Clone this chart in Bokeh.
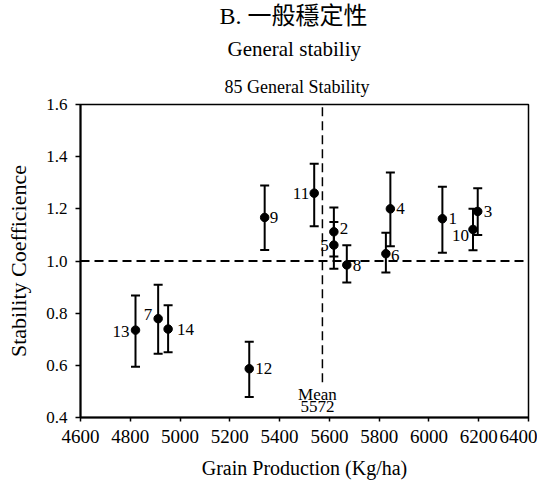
from bokeh.plotting import figure
from bokeh.models import ColumnDataSource, Whisker, Span, Title, FixedTicker, TeeHead
from bokeh.core.properties import value
from bokeh.embed import file_html
from bokeh.resources import INLINE

# ---- data ----
genotypes = ["1", "2", "3", "4", "5", "6", "7", "8", "9", "10", "11", "12", "13", "14"]
grain = [6054, 5618, 6196, 5845, 5618, 5827, 4912, 5670, 5340, 6177, 5539, 5278, 4821, 4952]
stability = [1.162, 1.112, 1.190, 1.200, 1.061, 1.028, 0.779, 0.985, 1.167, 1.121, 1.260, 0.587, 0.735, 0.739]
upper = [1.285, 1.205, 1.279, 1.339, 1.150, 1.108, 0.909, 1.060, 1.289, 1.200, 1.373, 0.690, 0.868, 0.830]
lower = [1.032, 1.017, 1.100, 1.057, 0.970, 0.956, 0.644, 0.918, 1.042, 1.041, 1.133, 0.479, 0.595, 0.650]
mean_grain = 5572
reference_stability = 1.0
x_ticks = [4600, 4800, 5000, 5200, 5400, 5600, 5800, 6000, 6200, 6400]
y_ticks = [0.4, 0.6, 0.8, 1.0, 1.2, 1.4, 1.6]
y_tick_labels = ["0.4", "0.6", "0.8", "1.0", "1.2", "1.4", "1.6"]

# ---- label styling (placement of the genotype numbers) ----
lab_align = ["left", "left", "left", "left", "right", "left", "right", "left", "left", "right", "right", "left", "right", "left"]
lab_dx = [6, 6, 6, 6, -5, 5, -6, 6, 5, -4, -5, 6, -6, 9]
lab_dy = [0, -3, 0, 0, 0, 2, -4, 1, 0, 6, 0, 0, 1, 0]

SERIF = "Liberation Serif"

p = figure(width=537, height=481, x_range=(4600, 6400), y_range=(0.4, 1.6),
           output_backend="svg", toolbar_location=None,
           min_border_left=80, min_border_right=9, min_border_top=102, min_border_bottom=63)
p.background_fill_color = "white"
p.border_fill_color = "white"
p.grid.visible = False
p.outline_line_color = "black"
p.outline_line_width = 1.5

# titles (added closest-first)
p.add_layout(Title(text="85 General Stability", align="left", offset=144, standoff=16,
                   text_font=SERIF, text_color="black",
                   text_font_size="18px", text_font_style="normal"), "above")
p.add_layout(Title(text="General stabiliy", align="left", offset=147, standoff=12,
                   text_font=SERIF, text_color="black",
                   text_font_size="21px", text_font_style="normal"), "above")
p.add_layout(Title(text="B. 一般穩定性", align="left", offset=139, standoff=0, text_color="black",
                   text_font="'Liberation Serif', 'Noto Sans CJK TC'",
                   text_font_size="24px", text_font_style="normal"), "above")

# axes
p.xaxis.ticker = FixedTicker(ticks=x_ticks)
p.yaxis.ticker = FixedTicker(ticks=y_ticks)
p.yaxis.major_label_overrides = {t: l for t, l in zip(y_ticks, y_tick_labels)}
for ax in (p.xaxis, p.yaxis):
    ax.axis_line_color = "black"
    ax.axis_line_width = 2
    ax.major_tick_line_color = "black"
    ax.major_tick_line_width = 1.5
    ax.major_tick_in = 0
    ax.minor_tick_line_color = None
    ax.major_label_text_font = SERIF
    ax.major_label_text_color = "black"
    ax.axis_label_text_font = SERIF
    ax.axis_label_text_font_style = "normal"
    ax.axis_label_text_color = "black"
p.xaxis.major_tick_out = 4
p.yaxis.major_tick_out = 5
p.xaxis.major_label_text_font_size = "19px"
p.yaxis.major_label_text_font_size = "17px"
p.xaxis.axis_label = "Grain Production (Kg/ha)"
p.yaxis.axis_label = "Stability Coefficience"
p.xaxis.axis_label_text_font_size = "20px"
p.yaxis.axis_label_text_font_size = "22px"
p.xaxis.major_label_standoff = 8
p.yaxis.major_label_standoff = 8
p.xaxis.axis_label_standoff = 11
p.yaxis.axis_label_standoff = 12

# reference lines
p.add_layout(Span(location=reference_stability, dimension="width", line_color="black",
                  line_width=2, line_dash="9 5"))
p.segment(x0=[mean_grain], y0=[0.535], x1=[mean_grain], y1=[1.6],
          line_color="black", line_width=1.5, line_dash="9 5")
p.text(x=[mean_grain, mean_grain], y=[0.535, 0.535], text=["Mean", "5572"],
       x_offset=[-5, -5], y_offset=[3, 19],
       text_font=value(SERIF), text_font_size="17px", text_align="center",
       text_baseline="top", text_color="black", text_line_height=1.0)

src = ColumnDataSource(dict(x=grain, y=stability, up=upper, lo=lower, g=genotypes,
                            align=lab_align, dx=lab_dx, dy=lab_dy))

w = Whisker(base="x", upper="up", lower="lo", source=src, dimension="height",
            line_color="black", line_width=2)
w.upper_head = TeeHead(size=9, line_color="black", line_width=2)
w.lower_head = TeeHead(size=9, line_color="black", line_width=2)
p.add_layout(w)

p.scatter("x", "y", source=src, size=8.5, fill_color="black", line_color="black")
p.text("x", "y", text="g", source=src, x_offset="dx", y_offset="dy", text_align="align",
       text_baseline="middle", text_font=value(SERIF), text_font_size="17px", text_color="black")

open("out.html", "w").write(file_html(p, INLINE))
